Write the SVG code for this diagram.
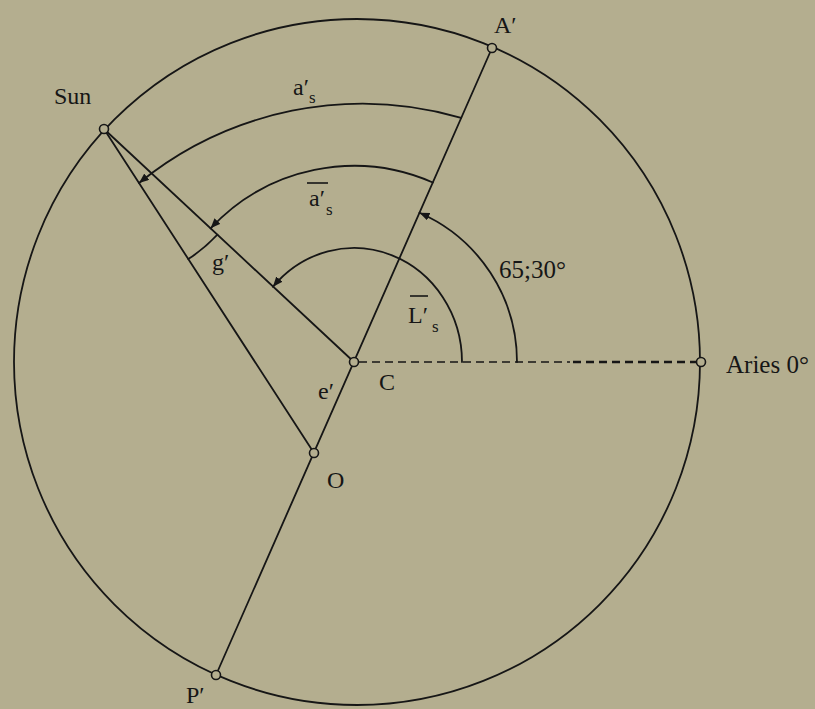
<svg xmlns="http://www.w3.org/2000/svg" width="815" height="709" viewBox="0 0 815 709">
<defs>
<style>
.ln{fill:none;stroke:#161616;stroke-width:1.8;stroke-linecap:round}
.dash{fill:none;stroke:#161616;stroke-dasharray:8 5}
.pt{fill:#b4ae8f;stroke:#161616;stroke-width:1.6}
text{font-family:"Liberation Serif","Times New Roman",serif;font-size:24px;fill:#161616}
.sub{font-size:17px}
.ob{stroke:#161616;stroke-width:1.6}
</style>
<marker id="arr" viewBox="0 0 10 8" refX="10" refY="4" markerWidth="10" markerHeight="8" markerUnits="userSpaceOnUse" orient="auto">
<path d="M0,0 L10,4 L0,8 Z" fill="#161616"/>
</marker>
</defs>
<rect x="0" y="0" width="815" height="709" fill="#b4ae8f"/>
<g id="connectors">
<circle class="ln" cx="357" cy="362" r="343"/>
<line class="ln" x1="492" y1="48" x2="216" y2="675"/>
<line class="ln" x1="104" y1="129" x2="354" y2="362"/>
<line class="ln" x1="104" y1="129" x2="314" y2="453"/>
<line class="dash" x1="359" y1="362" x2="570" y2="362" stroke-width="1.6"/>
<line class="dash" x1="573" y1="362" x2="697" y2="362" stroke-width="2.4"/>
<path class="ln" d="M517,362 A163,163 0 0 0 419.5,212.7" marker-end="url(#arr)"/>
<path class="ln" d="M462,362 A108,114 0 0 0 272.9,286.8" marker-end="url(#arr)"/>
<path class="ln" d="M432.8,182.5 A196,196 0 0 0 210.6,228.3" marker-end="url(#arr)"/>
<path class="ln" d="M461.2,117.8 A354,354 0 0 0 139,183" marker-end="url(#arr)"/>
<path class="ln" d="M188.3,259.1 A155,155 0 0 0 217.4,234.7"/>
</g>
<g id="sun"><circle class="pt" cx="104" cy="129" r="4.5"/><text x="54" y="104">Sun</text></g>
<g id="aprime"><circle class="pt" cx="492" cy="48" r="4.5"/><text x="494" y="33">A′</text></g>
<g id="pprime"><circle class="pt" cx="216" cy="675" r="4.5"/><text x="186" y="703">P′</text></g>
<g id="c"><circle class="pt" cx="354" cy="362" r="4.5"/><text x="379" y="390">C</text></g>
<g id="o"><circle class="pt" cx="314" cy="453" r="4.5"/><text x="327" y="488">O</text></g>
<g id="aries"><circle class="pt" cx="701" cy="362" r="4.5"/><text x="726" y="373" style="font-size:25px">Aries 0°</text></g>
<g id="labels">
<text x="293" y="95">a′</text><text class="sub" x="309" y="103">s</text>
<text x="309" y="206">a′</text><text class="sub" x="326" y="215">s</text>
<line class="ob" x1="307" y1="183" x2="328" y2="183"/>
<text x="408" y="323">L′</text><text class="sub" x="432" y="332">s</text>
<line class="ob" x1="410" y1="296" x2="428" y2="296"/>
<text x="212" y="270">g′</text>
<text x="318" y="399">e′</text>
<text x="499" y="278" style="font-size:25px">65;30°</text>
</g>
</svg>
